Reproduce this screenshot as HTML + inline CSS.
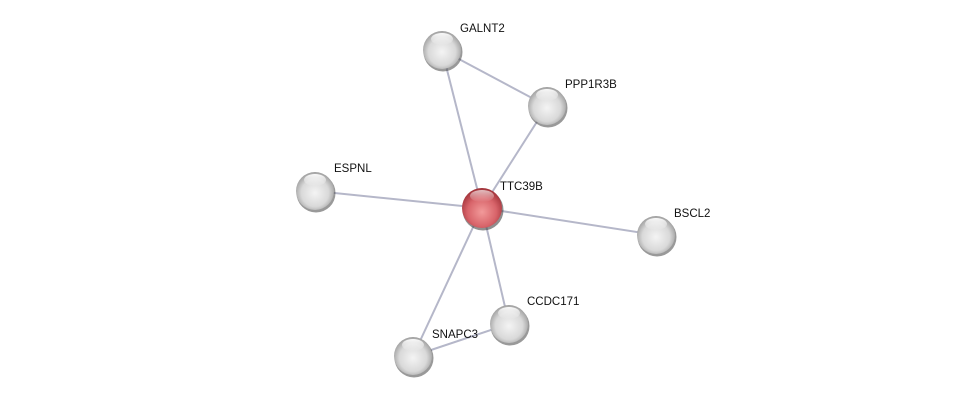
<!DOCTYPE html>
<html><head><meta charset="utf-8"><style>
html,body{margin:0;padding:0;background:#fff;}
svg{display:block;}
text{font-family:"Liberation Sans",sans-serif;font-size:11.5px;fill:#111;}
</style></head><body>
<svg width="975" height="401" viewBox="0 0 975 401" xmlns="http://www.w3.org/2000/svg">
<defs>
<radialGradient id="g" cx="0.5" cy="0.55" r="0.6">
<stop offset="0" stop-color="#f4f4f4"/><stop offset="0.6" stop-color="#d9d9d9"/><stop offset="1" stop-color="#8e8e8e"/>
</radialGradient>
<radialGradient id="r" cx="0.5" cy="0.6" r="0.6">
<stop offset="0" stop-color="#f29a9a"/><stop offset="0.6" stop-color="#d8646a"/><stop offset="1" stop-color="#9e2f36"/>
</radialGradient>
<linearGradient id="hl" x1="0" y1="0" x2="0" y2="1">
<stop offset="0" stop-color="#fff" stop-opacity="0.95"/><stop offset="1" stop-color="#fff" stop-opacity="0"/>
</linearGradient>
</defs>
<g stroke="#b5b7c9" stroke-width="2" fill="none">
<line x1="482" y1="208" x2="442" y2="50"/>
<line x1="482" y1="208" x2="547" y2="106"/>
<line x1="482" y1="208" x2="315" y2="191"/>
<line x1="482" y1="208" x2="656" y2="235"/>
<line x1="482" y1="208" x2="509" y2="324"/>
<line x1="482" y1="208" x2="413" y2="356"/>
<line x1="442" y1="50" x2="547" y2="106"/>
<line x1="413" y1="356" x2="509" y2="324"/>
</g>
<g>
<circle cx="443" cy="52" r="19.5" fill="#555" opacity="0.6"/>
<circle cx="442" cy="50" r="19" fill="url(#g)"/>
<ellipse cx="442" cy="39" rx="11" ry="6" fill="url(#hl)"/>
<circle cx="548" cy="108" r="19.5" fill="#555" opacity="0.6"/>
<circle cx="547" cy="106" r="19" fill="url(#g)"/>
<ellipse cx="547" cy="95" rx="11" ry="6" fill="url(#hl)"/>
<circle cx="316" cy="193" r="19.5" fill="#555" opacity="0.6"/>
<circle cx="315" cy="191" r="19" fill="url(#g)"/>
<ellipse cx="315" cy="180" rx="11" ry="6" fill="url(#hl)"/>
<circle cx="657" cy="237" r="19.5" fill="#555" opacity="0.6"/>
<circle cx="656" cy="235" r="19" fill="url(#g)"/>
<ellipse cx="656" cy="224" rx="11" ry="6" fill="url(#hl)"/>
<circle cx="510" cy="326" r="19.5" fill="#555" opacity="0.6"/>
<circle cx="509" cy="324" r="19" fill="url(#g)"/>
<ellipse cx="509" cy="313" rx="11" ry="6" fill="url(#hl)"/>
<circle cx="414" cy="358" r="19.5" fill="#555" opacity="0.6"/>
<circle cx="413" cy="356" r="19" fill="url(#g)"/>
<ellipse cx="413" cy="345" rx="11" ry="6" fill="url(#hl)"/>
<circle cx="483" cy="210" r="20.5" fill="#444" opacity="0.6"/>
<circle cx="482" cy="208" r="20" fill="url(#r)"/>
<ellipse cx="482" cy="196" rx="12" ry="6" fill="url(#hl)" opacity="0.7"/>
</g>
<text x="460" y="32">GALNT2</text>
<text x="565" y="88">PPP1R3B</text>
<text x="334" y="172">ESPNL</text>
<text x="500" y="190">TTC39B</text>
<text x="674" y="217">BSCL2</text>
<text x="527" y="305">CCDC171</text>
<text x="432" y="338">SNAPC3</text>
</svg>
</body></html>
